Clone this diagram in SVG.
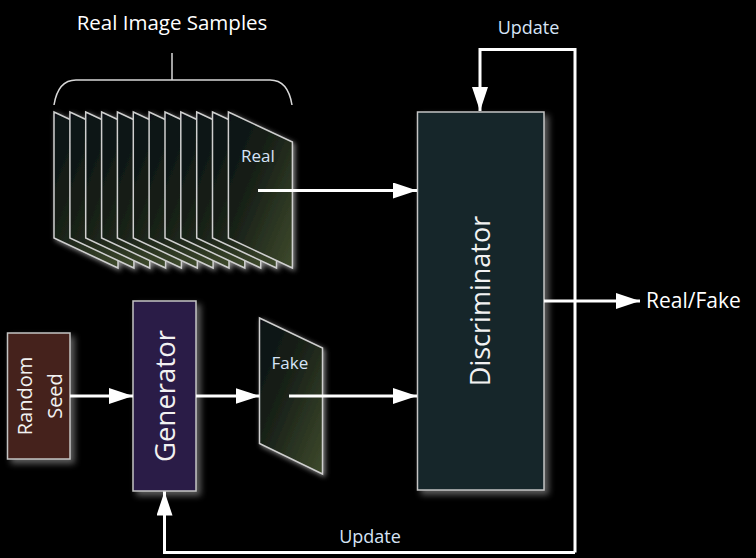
<svg xmlns="http://www.w3.org/2000/svg" width="756" height="558" viewBox="0 0 756 558">
<style>
.bg{fill:#000}
.sheet{fill:url(#sheetGrad);stroke:#cfcfcf;stroke-width:1.5;stroke-linejoin:miter}
.box{stroke:#c4c4c4;stroke-width:1.5}
.conn{fill:none;stroke:#fff;stroke-width:3;stroke-linejoin:miter}
.lbl{font-family:"Open Sans","Noto Sans","Liberation Sans",sans-serif;fill:#d6e4f6}
.boxtxt{font-family:"Open Sans","Noto Sans","Liberation Sans",sans-serif;fill:#f2f2f2}
.plain{font-family:"Open Sans","Noto Sans","Liberation Sans",sans-serif;fill:#fff}
</style>
<defs>
<linearGradient id="sheetGrad" x1="0" y1="0" x2="1" y2="1">
<stop offset="0" stop-color="#071012"/>
<stop offset="0.45" stop-color="#1a2219"/>
<stop offset="1" stop-color="#3e4a2c"/>
</linearGradient>
<filter id="glow" x="-30%" y="-30%" width="160%" height="160%">
<feGaussianBlur in="SourceAlpha" stdDeviation="2.5" result="b"/>
<feOffset in="b" dx="1.5" dy="2" result="o"/>
<feFlood flood-color="#d0d0d0" flood-opacity="0.65"/>
<feComposite in2="o" operator="in" result="s"/>
<feMerge><feMergeNode in="s"/><feMergeNode in="SourceGraphic"/></feMerge>
</filter>
<filter id="shadow" x="-20%" y="-20%" width="140%" height="140%">
<feGaussianBlur in="SourceAlpha" stdDeviation="3" result="b"/>
<feOffset in="b" dx="4" dy="4" result="o"/>
<feFlood flood-color="#9a9a9a" flood-opacity="0.6"/>
<feComposite in2="o" operator="in" result="s"/>
<feMerge><feMergeNode in="s"/><feMergeNode in="SourceGraphic"/></feMerge>
</filter>
<marker id="arrow" markerUnits="userSpaceOnUse" markerWidth="24" markerHeight="16" viewBox="0 0 24 16" refX="24" refY="8" orient="auto">
<path d="M0,0 L24,8 L0,16 Z" fill="#fff"/>
</marker>
</defs>
<rect class="bg" x="0" y="0" width="756" height="558"/>

<g id="real-samples">
<text class="plain" x="172" y="30" font-size="20.5" text-anchor="middle">Real Image Samples</text>
<path d="M54,105 Q58,80 76,80 L270,80 Q288,80 292,105 M172,80 L172,53" fill="none" stroke="#d8d8d8" stroke-width="1.5"/>
<g filter="url(#glow)">
<polygon class="sheet" points="54,112 118,142 118,268 54,238"/>
<polygon class="sheet" points="69.9,112 133.9,142 133.9,268 69.9,238"/>
<polygon class="sheet" points="85.7,112 149.7,142 149.7,268 85.7,238"/>
<polygon class="sheet" points="101.6,112 165.6,142 165.6,268 101.6,238"/>
<polygon class="sheet" points="117.4,112 181.4,142 181.4,268 117.4,238"/>
<polygon class="sheet" points="133.3,112 197.3,142 197.3,268 133.3,238"/>
<polygon class="sheet" points="149.1,112 213.1,142 213.1,268 149.1,238"/>
<polygon class="sheet" points="165,112 229,142 229,268 165,238"/>
<polygon class="sheet" points="180.8,112 244.8,142 244.8,268 180.8,238"/>
<polygon class="sheet" points="196.7,112 260.7,142 260.7,268 196.7,238"/>
<polygon class="sheet" points="212.5,112 276.5,142 276.5,268 212.5,238"/>
<polygon class="sheet" points="228.4,112 292.4,142 292.4,268 228.4,238"/>
</g>
<text class="lbl" x="241" y="161.5" font-size="17">Real</text>
</g>

<g id="random-seed">
<rect class="box" x="7.5" y="333" width="62.5" height="126" fill="#45241a" filter="url(#shadow)"/>
<text class="boxtxt" transform="translate(0,396) rotate(-90)" font-size="20" text-anchor="middle"><tspan x="0" y="31.5">Random</tspan><tspan x="0" y="61.5">Seed</tspan></text>
</g>

<g id="generator">
<rect class="box" x="133" y="301" width="63" height="190" fill="#2a1e46" filter="url(#shadow)"/>
<text class="boxtxt" transform="translate(0,396) rotate(-90)" font-size="27.5" text-anchor="middle" x="0" y="175">Generator</text>
</g>

<g id="fake-sample">
<polygon class="sheet" points="259.5,318 322.5,348 322.5,474 259.5,443.5" filter="url(#glow)"/>
<text class="lbl" x="271.5" y="368.5" font-size="17">Fake</text>
</g>

<g id="discriminator">
<rect class="box" x="417.5" y="112" width="126.5" height="378" fill="#12252a" filter="url(#shadow)"/>
<text class="boxtxt" transform="translate(0,301) rotate(-90)" font-size="27" text-anchor="middle" x="0" y="490">Discriminator</text>
</g>

<g id="output">
<text class="plain" x="646" y="308" font-size="21">Real/Fake</text>
</g>

<g id="connectors">
<path class="conn" d="M70,396 L133,396" marker-end="url(#arrow)"/>
<path class="conn" d="M196,396 L259.5,396" marker-end="url(#arrow)"/>
<path class="conn" d="M289,396 L417,396" marker-end="url(#arrow)"/>
<path class="conn" d="M258,190.5 L417,190.5" marker-end="url(#arrow)"/>
<path class="conn" d="M544,301 L640,301" marker-end="url(#arrow)"/>
<path class="conn" d="M575,552.5 L575,49.5 L480,49.5 L480,111" marker-end="url(#arrow)"/>
<path class="conn" d="M575,552.5 L164.5,552.5 L164.5,491.5" marker-end="url(#arrow)"/>
<text class="lbl" x="528.5" y="33.5" font-size="18" text-anchor="middle">Update</text>
<text class="lbl" x="370" y="542.5" font-size="18" text-anchor="middle">Update</text>
</g>
</svg>
